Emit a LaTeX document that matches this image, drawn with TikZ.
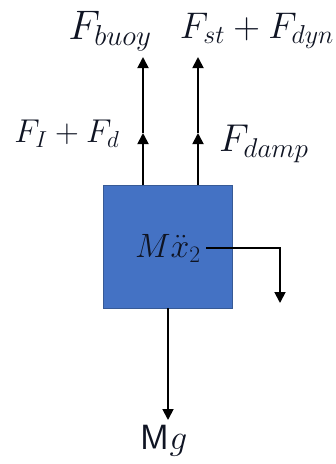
\documentclass[tikz,border=0pt]{standalone}
\usepackage{fix-cm}
\usepackage{amsmath}
\usetikzlibrary{arrows.meta,positioning}
\definecolor{mass}{RGB}{68,114,196}
\definecolor{massedge}{RGB}{55,90,150}
\definecolor{ink}{RGB}{15,20,35}
\tikzset{
  >={Triangle[length=11pt,width=11pt]},
  force/.style={->,line width=1.8pt,black},
  lbl/.style={font=\fontsize{25}{29}\selectfont,text=ink,inner sep=0pt,scale=#1,transform shape},
  lbl/.default=1.5,
  massbox/.style={draw=massedge,fill=mass,line width=0.8pt,minimum width=129pt,minimum height=123pt,inner sep=0pt},
}
\begin{document}
\begin{tikzpicture}[x=1pt,y=-1pt]
        \useasboundingbox (0,0) rectangle (336,464);
        \node[massbox] (m) at (167.5,246.5) {};
        \node[lbl=1.35] (acc) at (168,248) {$M\ddot{x}_2$};
        \node[lbl=1.65] (buoy) at (110,31) {$F_{buoy}$};
        \node[lbl=1.48] (st) at (257,31) {$F_{st}+F_{dyn}$};
        \node[lbl=1.32] (id) at (67,134) {$F_{I}+F_{d}$};
        \node[lbl=1.55] (damp) at (264,144) {$F_{damp}$};
        \node[lbl=1.4] (w) at (164,441) {\textsf{M}$g$};
        \coordinate (b1) at (143,185);
        \coordinate (b2) at (198,185);
        \coordinate (t1) at (143,57);
        \coordinate (t2) at (198,57);
        \coordinate (c1) at (143,133);
        \coordinate (c2) at (198,133);
        \coordinate (b3) at (168,308);
        \coordinate (e3) at (168,420);
        \coordinate (s4) at (206,248);
        \coordinate (k4) at (280,248);
        \coordinate (e4) at (280,303);
        \draw[force] (b1) -- (c1);
        \draw[force] (c1) -- (t1);
        \draw[force] (b2) -- (c2);
        \draw[force] (c2) -- (t2);
        \draw[force] (b3) -- (e3);
        \draw[force] (s4) -- (k4) -- (e4);
      \end{tikzpicture}
\end{document}
